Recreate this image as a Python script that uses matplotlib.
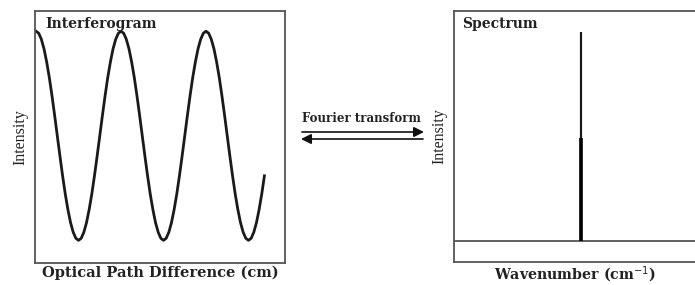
import matplotlib
matplotlib.use("Agg")
import matplotlib.pyplot as plt

# interferogram (x in periods, intensity 0..1)
one_period = [0.920, 0.912, 0.888, 0.850, 0.798, 0.736, 0.664, 0.586,
              0.505, 0.424, 0.346, 0.274, 0.212, 0.160, 0.122, 0.098,
              0.090, 0.098, 0.122, 0.160, 0.212, 0.274, 0.346, 0.424,
              0.505, 0.586, 0.664, 0.736, 0.798, 0.850, 0.888, 0.912]
intensity = (one_period * 3)[:87]
opd = [k / 32 for k in range(len(intensity))]

# spectrum: flat baseline and a single line
baseline = 0.084
peak_pos = 0.527
peak_top = 0.916
peak_mid = 0.494

labels_left = ("Interferogram", "Optical Path Difference (cm)", "Intensity")
labels_right = ("Spectrum", "Wavenumber (cm$^{-1}$)", "Intensity")
arrow_text = "Fourier transform"

serif = "DejaVu Serif"
frame_col = "#555555"

fig = plt.figure(figsize=(6.95, 2.85), dpi=100)
ax1 = fig.add_axes([0.0504, 0.0772, 0.3597, 0.884])
ax2 = fig.add_axes([0.6532, 0.0807, 0.3468, 0.8807])

for ax in (ax1, ax2):
    ax.set_xticks([])
    ax.set_yticks([])
    for s in ax.spines.values():
        s.set_color(frame_col)
        s.set_linewidth(1.3)
ax2.spines["right"].set_visible(False)

# left panel
ax1.plot(opd, intensity, color="#1a1a1a", lw=2.0)
ax1.set_xlim(-0.012, 2.93)
ax1.set_ylim(0, 1)
ax1.text(0.04, 0.975, labels_left[0], transform=ax1.transAxes, family=serif,
         fontweight="bold", fontsize=10, va="top", ha="left", color="#222")
ax1.set_xlabel(labels_left[1], family=serif, fontweight="bold", fontsize=10.5,
               labelpad=2, color="#222")
ax1.set_ylabel(labels_left[2], family="Liberation Serif", fontsize=11.5,
               labelpad=5, color="#222")

# right panel
ax2.set_xlim(0, 1)
ax2.set_ylim(0, 1)
ax2.axhline(baseline, color=frame_col, lw=1.3)
ax2.vlines(peak_pos, baseline, peak_top, color="#1a1a1a", lw=1.6)
ax2.vlines(peak_pos, baseline, peak_mid, color="#000000", lw=2.6)
ax2.text(0.035, 0.975, labels_right[0], transform=ax2.transAxes, family=serif,
         fontweight="bold", fontsize=10, va="top", ha="left", color="#222")
ax2.set_xlabel(labels_right[1], family=serif, fontweight="bold", fontsize=10.2,
               labelpad=2, color="#222")
ax2.set_ylabel(labels_right[2], family="Liberation Serif", fontsize=11.5,
               labelpad=5, color="#222")

# arrows between the panels (figure fraction)
fig.text(361 / 695, 1 - 119 / 285, arrow_text, family=serif, fontweight="bold",
         fontsize=8.5, ha="center", va="center", color="#222")
fig.add_artist(matplotlib.patches.FancyArrowPatch(
    (302 / 695, 1 - 132 / 285), (424 / 695, 1 - 132 / 285),
    transform=fig.transFigure, arrowstyle="-|>,head_length=6,head_width=3",
    color="#111", lw=1.2, shrinkA=0, shrinkB=0))
fig.add_artist(matplotlib.patches.FancyArrowPatch(
    (423 / 695, 1 - 139 / 285), (301 / 695, 1 - 139 / 285),
    transform=fig.transFigure, arrowstyle="-|>,head_length=6,head_width=3",
    color="#111", lw=1.2, shrinkA=0, shrinkB=0))

fig.savefig("out.png", dpi=100, facecolor="white")
